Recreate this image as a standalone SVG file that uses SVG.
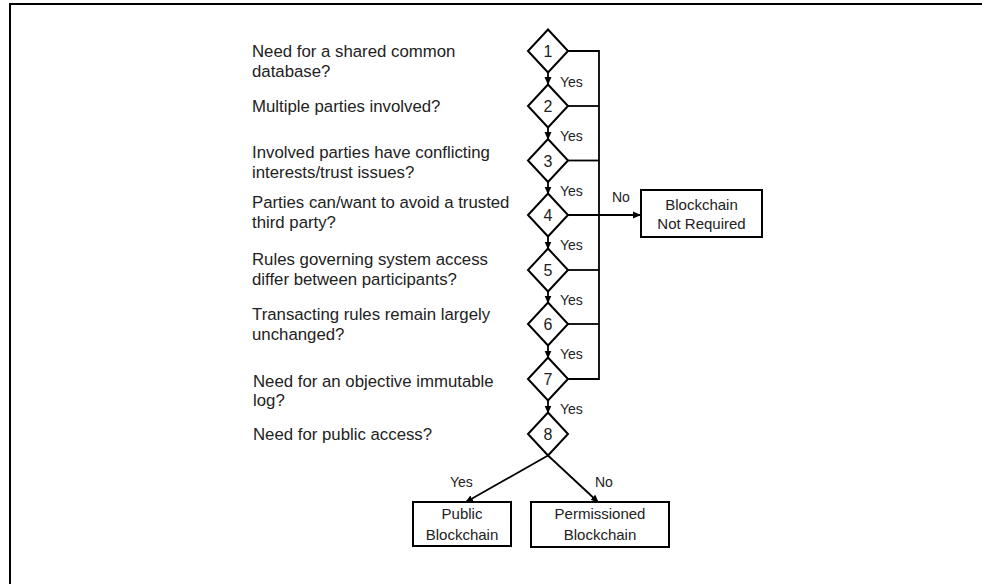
<svg xmlns="http://www.w3.org/2000/svg" width="982" height="584" viewBox="0 0 982 584">
<style>
.q{font-family:"Liberation Sans",Arial,sans-serif;font-size:16.8px;fill:#222}
.lbl{font-family:"Liberation Sans",Arial,sans-serif;font-size:14px;fill:#222}
.num{font-family:"Liberation Sans",Arial,sans-serif;font-size:16px;fill:#222;text-anchor:middle}
.bt{font-family:"Liberation Sans",Arial,sans-serif;font-size:15px;fill:#222;text-anchor:middle}
.dia{fill:#fff;stroke:#000;stroke-width:2}
.box{fill:#fff;stroke:#000;stroke-width:2}
.ln{fill:none;stroke:#000;stroke-width:1.8}
</style>
<defs>
<marker id="ah" markerWidth="8" markerHeight="8" refX="7" refY="4" orient="auto" markerUnits="userSpaceOnUse">
<path d="M0,0.5 L8,4 L0,7.5 Z" fill="#000"/>
</marker>
</defs>
<rect x="10" y="4" width="990" height="600" fill="none" stroke="#000" stroke-width="2"/>

<g id="questions">
<text class="q" x="252" y="57">Need for a shared common</text>
<text class="q" x="252" y="77">database?</text>
<text class="q" x="252" y="112">Multiple parties involved?</text>
<text class="q" x="252" y="158">Involved parties have conflicting</text>
<text class="q" x="252" y="178">interests/trust issues?</text>
<text class="q" x="252" y="208">Parties can/want to avoid a trusted</text>
<text class="q" x="252" y="228">third party?</text>
<text class="q" x="252" y="265">Rules governing system access</text>
<text class="q" x="252" y="285">differ between participants?</text>
<text class="q" x="252" y="320">Transacting rules remain largely</text>
<text class="q" x="252" y="340">unchanged?</text>
<text class="q" x="253" y="387">Need for an objective immutable</text>
<text class="q" x="253" y="406">log?</text>
<text class="q" x="253" y="440">Need for public access?</text>
</g>

<g id="connectors">
<line class="ln" x1="548" y1="72.5" x2="548" y2="84" marker-end="url(#ah)"/>
<line class="ln" x1="548" y1="127.5" x2="548" y2="139" marker-end="url(#ah)"/>
<line class="ln" x1="548" y1="182" x2="548" y2="193.5" marker-end="url(#ah)"/>
<line class="ln" x1="548" y1="236.5" x2="548" y2="248.5" marker-end="url(#ah)"/>
<line class="ln" x1="548" y1="291.5" x2="548" y2="302.5" marker-end="url(#ah)"/>
<line class="ln" x1="548" y1="345.5" x2="548" y2="357.5" marker-end="url(#ah)"/>
<line class="ln" x1="548" y1="400.5" x2="548" y2="412.5" marker-end="url(#ah)"/>
<path class="ln" d="M568,51 H599 V379 H568"/>
<line class="ln" x1="568" y1="106" x2="599" y2="106"/>
<line class="ln" x1="568" y1="160.5" x2="599" y2="160.5"/>
<line class="ln" x1="568" y1="270" x2="599" y2="270"/>
<line class="ln" x1="568" y1="324" x2="599" y2="324"/>
<line class="ln" x1="568" y1="215" x2="640" y2="215" marker-end="url(#ah)"/>
<line class="ln" x1="548" y1="455.5" x2="466" y2="502" marker-end="url(#ah)"/>
<line class="ln" x1="548" y1="455.5" x2="598" y2="502" marker-end="url(#ah)"/>
<text class="lbl" x="560" y="87">Yes</text>
<text class="lbl" x="560" y="141">Yes</text>
<text class="lbl" x="560" y="196">Yes</text>
<text class="lbl" x="560" y="250">Yes</text>
<text class="lbl" x="560" y="305">Yes</text>
<text class="lbl" x="560" y="359">Yes</text>
<text class="lbl" x="560" y="414">Yes</text>
<text class="lbl" x="612" y="202">No</text>
<text class="lbl" x="450" y="487">Yes</text>
<text class="lbl" x="595" y="487">No</text>
</g>

<g id="d1"><polygon class="dia" points="548,29.5 568,51 548,72.5 528,51"/><text class="num" x="548" y="57">1</text></g>
<g id="d2"><polygon class="dia" points="548,84.5 568,106 548,127.5 528,106"/><text class="num" x="548" y="112">2</text></g>
<g id="d3"><polygon class="dia" points="548,139 568,160.5 548,182 528,160.5"/><text class="num" x="548" y="166.5">3</text></g>
<g id="d4"><polygon class="dia" points="548,193.5 568,215 548,236.5 528,215"/><text class="num" x="548" y="221">4</text></g>
<g id="d5"><polygon class="dia" points="548,248.5 568,270 548,291.5 528,270"/><text class="num" x="548" y="276">5</text></g>
<g id="d6"><polygon class="dia" points="548,302.5 568,324 548,345.5 528,324"/><text class="num" x="548" y="330">6</text></g>
<g id="d7"><polygon class="dia" points="548,357.5 568,379 548,400.5 528,379"/><text class="num" x="548" y="385">7</text></g>
<g id="d8"><polygon class="dia" points="548,412.5 568,434 548,455.5 528,434"/><text class="num" x="548" y="440">8</text></g>

<g id="not-required"><rect class="box" x="641" y="190" width="121" height="47"/><text class="bt" x="701.5" y="210">Blockchain</text><text class="bt" x="701.5" y="229">Not Required</text></g>
<g id="public"><rect class="box" x="413" y="502" width="98" height="44"/><text class="bt" x="462" y="519">Public</text><text class="bt" x="462" y="540">Blockchain</text></g>
<g id="permissioned"><rect class="box" x="531" y="502" width="138" height="45"/><text class="bt" x="600" y="519">Permissioned</text><text class="bt" x="600" y="540">Blockchain</text></g>
</svg>
